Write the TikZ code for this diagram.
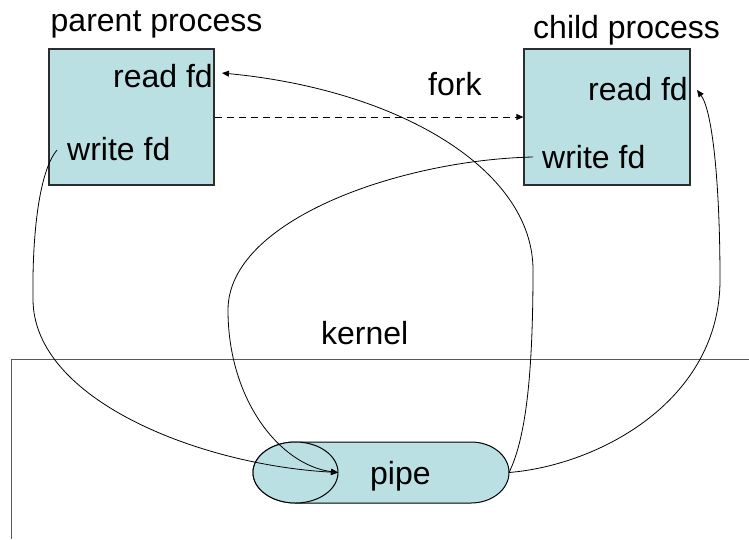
\documentclass[tikz,border=0pt]{standalone}
\usepackage{fontspec}
\setmainfont{Liberation Sans}
\usetikzlibrary{arrows.meta,calc}
\definecolor{boxfill}{RGB}{187,224,227}
\definecolor{boxline}{RGB}{45,45,45}
\begin{document}
\begin{tikzpicture}[x=1pt,y=-1pt,
  lbl/.style={inner sep=0pt, font=\fontsize{32}{38}\selectfont},
  procbox/.style={draw=boxline, line width=1.3pt, fill=boxfill,
    minimum width=165pt, minimum height=136pt, inner sep=0pt},
  pipeshape/.style={draw=black, line width=1pt, fill=boxfill},
  kline/.style={draw=black!65, line width=1pt},
  link/.style={line width=0.8pt},
  tip/.style={-{Triangle[length=7pt,width=6pt]}},
]
\useasboundingbox (0,0) rectangle (749,539);

% user-space processes
\node[procbox] (pbox) at (131.5,117) {};
\node[procbox, minimum width=166pt] (cbox) at (607,117) {};

\node[lbl, anchor=base west] (ptitle) at (50.5,31) {parent process};
\node[lbl, anchor=base west] (ctitle) at (533,38) {child process};
\node[lbl, anchor=base east] (prd) at (213,87) {read fd};
\node[lbl, anchor=base west] (pwr) at (67,160) {write fd};
\node[lbl, anchor=base east] (crd) at (688,100) {read fd};
\node[lbl, anchor=base west] (cwr) at (542,168) {write fd};
\node[lbl, anchor=base west] (fork) at (428,95) {fork};

% kernel region
\draw[kline] (749,359) -- (11,359) -- (11,539);
\node[lbl, anchor=base west] (kernel) at (321,344) {kernel};

% the pipe, drawn as a lying cylinder
\path[pipeshape] (295.5,442) -- (471,442)
  arc[start angle=-90, end angle=90, x radius=38, y radius=30.5]
  -- (295.5,503)
  arc[start angle=90, end angle=270, x radius=42.5, y radius=30.5] -- cycle;
\path[pipeshape] (295.5,472.5) ellipse [x radius=42.5, y radius=30.5];
\node[lbl, anchor=base west] (pipe) at (370,484) {pipe};
\coordinate (pipeIn) at (338,472.5);
\coordinate (pipeOut) at (509,472.5);

% fork
\draw[link, dash pattern=on 7pt off 5pt, tip] (pbox.east) -- (cbox.west);

% descriptors into and out of the pipe
\draw[link, tip] ($(pwr.base west)+(-10,-10)$)
  .. controls (40,170) and (32,230) .. (33,300)
  .. controls (34,400) and (200,465) .. (pipeIn);
\draw[link, tip] ($(cwr.base west)+(-9,-11)$)
  .. controls (400,160) and (228,220) .. (228,310)
  .. controls (228,400) and (280,465) .. (pipeIn);
\draw[link, tip] (pipeOut)
  .. controls (525,440) and (533,380) .. (533,270)
  .. controls (533,170) and (400,90) .. ($(prd.base east)+(9,-14)$);
\draw[link, tip] (pipeOut)
  .. controls (600,465) and (720,400) .. (720,280)
  .. controls (720,180) and (712,110) .. ($(crd.base east)+(9,-10)$);
\end{tikzpicture}
\end{document}
